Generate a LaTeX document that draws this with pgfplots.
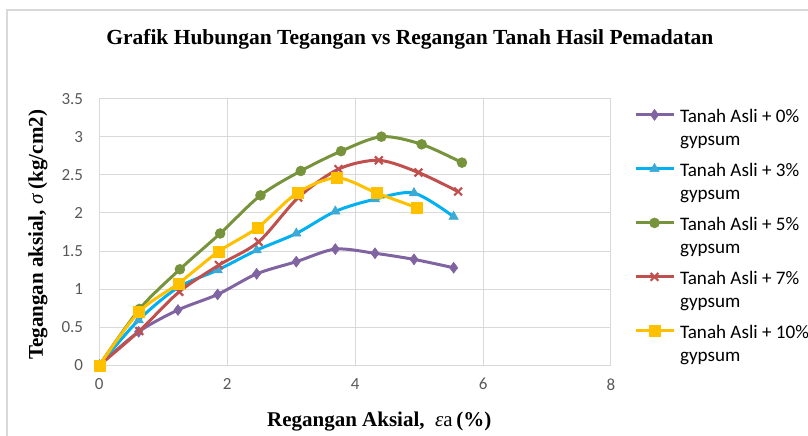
\documentclass[border=0pt]{standalone}
\usepackage{fontspec}
\setmainfont{Liberation Serif}
\newfontfamily\calibri{Carlito}
\usepackage{pgfplots}
\pgfplotsset{compat=1.18}
\definecolor{cpurple}{HTML}{8064A2}
\definecolor{cblue}{HTML}{00B0F0}
\definecolor{cbluem}{HTML}{3DA9D4}
\definecolor{cgreen}{HTML}{77933C}
\definecolor{cred}{HTML}{C0504D}
\definecolor{cyellow}{HTML}{FFC000}
\definecolor{cgrid}{HTML}{D9D9D9}
\definecolor{ctick}{HTML}{595959}
\newcommand{\mainline}[1]{\rule[-8.3bp]{0pt}{30.7bp}#1}
\newcommand{\subline}[1]{\rule[-8.3bp]{0pt}{23.3bp}#1}
\begin{document}
\begin{tikzpicture}
\draw[cgrid, line width=1.5bp] (7bp,0bp) -- (7bp,426bp) -- (810bp,426bp);
\begin{axis}[
  at={(99.3bp,70.7bp)}, anchor=south west,
  scale only axis, width=511.7bp, height=266.7bp,
  xmin=0, xmax=8, ymin=0, ymax=3.5,
  xtick={0,2,4,6,8}, ytick={0,0.5,1,1.5,2,2.5,3,3.5},
  /pgf/number format/assume math mode=true,
  yticklabel style={/pgf/number format/fixed},
  major tick length=0pt,
  grid=major, grid style={cgrid, line width=1bp},
  axis line style={cgrid, line width=1bp},
  tick label style={font=\calibri\fontsize{17bp}{20bp}\selectfont, text=ctick, inner sep=0pt},
  yticklabel style={anchor=east, xshift=-16bp},
  xticklabel style={anchor=north, yshift=-13bp},
  title={Grafik Hubungan Tegangan vs Regangan Tanah Hasil Pemadatan},
  title style={font=\bfseries\fontsize{21.5bp}{24bp}\selectfont, at={(axis description cs:0.607,1.201)}, anchor=center, inner sep=0pt},
  xlabel={Regangan Aksial,\ \ {\mdseries\itshape ε}{\mdseries a}\,(\%)},
  xlabel style={font=\bfseries\fontsize{21bp}{24bp}\selectfont, at={(axis description cs:0.547,0)}, anchor=center, yshift=-56.7bp, inner sep=0pt},
  ylabel={Tegangan aksial, {\mdseries\itshape σ} (kg/cm2)},
  ylabel style={font=\bfseries\fontsize{21bp}{24bp}\selectfont, at={(axis description cs:-0.1198,0.489)}, anchor=center, inner sep=0pt},
  legend cell align=left,
  legend style={draw=none, fill=none, inner sep=0pt, outer sep=0pt,
    at={(axis description cs:1.045,0.994)}, anchor=north west,
    font=\calibri\fontsize{19.1bp}{23.3bp}\selectfont,
    nodes={inner sep=0pt, text height={}, text depth={}},
    cells={anchor=base west}, row sep=0bp, column sep=5bp},
  legend image code/.code={\draw[mark repeat=2,mark phase=2,#1, yshift=7.7bp] plot coordinates {(0bp,0bp) (19bp,0bp) (38bp,0bp)};},
  every axis plot/.append style={line width=3bp, smooth, tension=0.5},
]
\addplot[color=cpurple, mark=diamond*, mark size=5.5bp, mark options={solid, fill=cpurple, line width=0.5bp}] coordinates {
(0,0) (0.615,0.44) (1.23,0.726) (1.85,0.93) (2.46,1.20) (3.08,1.36) (3.69,1.525) (4.31,1.47) (4.92,1.39) (5.54,1.28)};
\addlegendentry{\mainline{Tanah Asli + 0\%}}
\addlegendimage{empty legend}
\addlegendentry{\subline{gypsum}}
\addplot[color=cblue, mark=triangle*, mark size=5.5bp, mark options={solid, fill=cbluem, draw=cbluem, line width=0.5bp}] coordinates {
(0,0) (0.615,0.594) (1.23,1.02) (1.85,1.25) (2.46,1.51) (3.08,1.73) (3.69,2.02) (4.31,2.18) (4.92,2.26) (5.54,1.95)};
\addlegendentry{\mainline{Tanah Asli + 3\%}}
\addlegendimage{empty legend}
\addlegendentry{\subline{gypsum}}
\addplot[color=cgreen, mark=*, mark size=5bp, mark options={solid, fill=cgreen, line width=0.5bp}] coordinates {
(0,0) (0.63,0.74) (1.26,1.26) (1.89,1.73) (2.52,2.23) (3.15,2.55) (3.78,2.81) (4.41,3.00) (5.04,2.90) (5.67,2.66)};
\addlegendentry{\mainline{Tanah Asli + 5\%}}
\addlegendimage{empty legend}
\addlegendentry{\subline{gypsum}}
\addplot[color=cred, mark=x, mark size=5.5bp, mark options={solid, line width=2.2bp}] coordinates {
(0,0) (0.625,0.45) (1.25,0.965) (1.87,1.315) (2.49,1.62) (3.11,2.20) (3.74,2.575) (4.37,2.69) (4.99,2.53) (5.61,2.28)};
\addlegendentry{\mainline{Tanah Asli + 7\%}}
\addlegendimage{empty legend}
\addlegendentry{\subline{gypsum}}
\addplot[color=cyellow, mark=square*, mark size=5.5bp, mark options={solid, fill=cyellow, line width=0.5bp}] coordinates {
(0,0) (0.62,0.70) (1.24,1.075) (1.86,1.49) (2.48,1.81) (3.10,2.265) (3.72,2.46) (4.34,2.26) (4.96,2.07)};
\addlegendentry{\mainline{Tanah Asli + 10\%}}
\addlegendimage{empty legend}
\addlegendentry{\subline{gypsum}}
\end{axis}
\pgfresetboundingbox
\path[use as bounding box] (0bp,0bp) rectangle (808bp,436bp);
\end{tikzpicture}
\end{document}
